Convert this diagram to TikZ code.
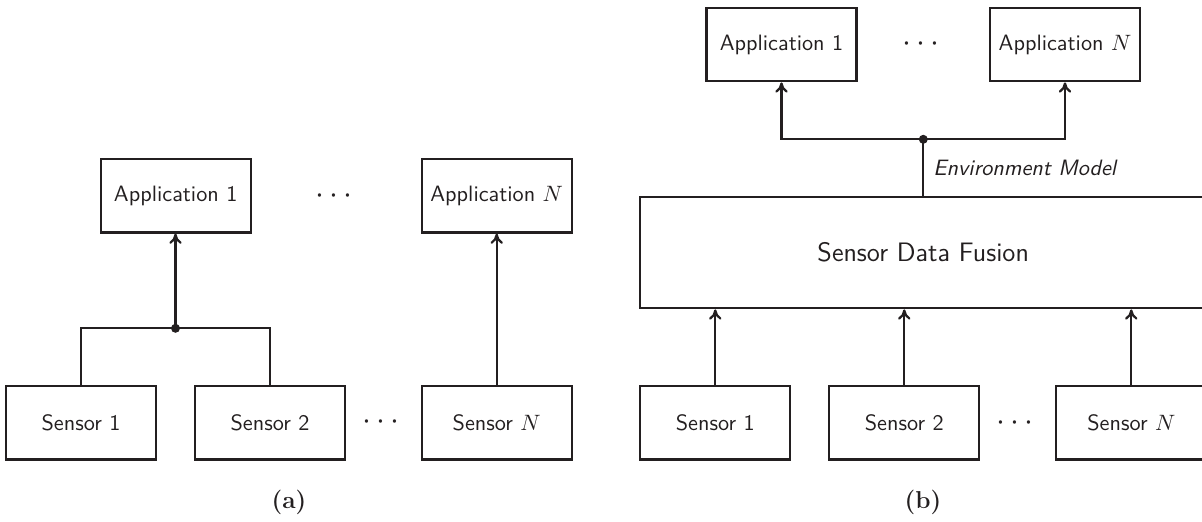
\documentclass[tikz,border=0pt]{standalone}
\usetikzlibrary{arrows.meta}
\definecolor{ink}{RGB}{35,31,32}
\tikzset{
  x=0.45pt, y=-0.45pt,
  every node/.style={text=ink},
  box/.style={draw=ink, line width=1pt, rectangle, inner sep=0pt,
    font=\sffamily, minimum width=150*0.45pt, minimum height=73.6*0.45pt},
  fusion/.style={draw=ink, line width=1pt, rectangle, inner sep=0pt,
    font=\sffamily\large, minimum width=565.7*0.45pt, minimum height=111.6*0.45pt},
  link/.style={draw=ink, line width=1pt},
  flow/.style={link, -{To[length=4.6pt,width=5.6pt]}},
  joint/.style={circle, fill=ink, inner sep=0pt, minimum size=9*0.45pt},
  gap/.style={inner sep=0pt, font=\Large},
  caption/.style={font=\fontsize{11}{13}\selectfont\bfseries, inner sep=0pt}
}
\begin{document}
\begin{tikzpicture}
\useasboundingbox (0,0) rectangle (1202,522);

% ---- (a): applications fed directly by sensors ----
\node[box] (a1) at (175.7,195.7) {Application 1};
\node[box] (aN) at (496.7,195.7) {Application $N$};
\node[gap] (adots) at (334,196) {$\cdots$};
\node[box] (s1) at (81,422.6) {Sensor 1};
\node[box] (s2) at (270,422.6) {Sensor 2};
\node[box] (sN) at (496.7,422.6) {Sensor $N$};
\node[gap] (sdots) at (381,422.7) {$\cdots$};
\node[joint] (j) at (175.5,328.3) {};

\draw[link] (s1.north) |- (j.center) -| (s2.north);
\draw[flow] (j.center) -- (j |- a1.south);
\draw[flow] (sN.north) -- (aN.south);

\node[caption] (capa) at (289,502) {(a)};

% ---- (b): applications fed by a common fusion stage ----
\node[box] (b1) at (781.5,44.5) {Application 1};
\node[box] (bN) at (1065,44.5) {Application $N$};
\node[gap] (bdots) at (921,44) {$\cdots$};
\node[fusion] (sdf) at (923.2,252.5) {Sensor Data Fusion};
\node[box] (t1) at (715.3,422.8) {Sensor 1};
\node[box] (t2) at (904.3,422.8) {Sensor 2};
\node[box] (tN) at (1131.3,422.8) {Sensor $N$};
\node[gap] (tdots) at (1015,423) {$\cdots$};
\node[joint] (k) at (923.3,139.3) {};

\draw[link] (sdf.north -| k) -- (k.center);
\draw[flow] (k.center) -| (b1.south);
\draw[flow] (k.center) -| (bN.south);
\node[anchor=west, inner sep=0pt, font=\sffamily\itshape] (env) at (933,167.5) {Environment Model};

\draw[flow] (t1.north) -- (t1.north |- sdf.south);
\draw[flow] (t2.north) -- (t2.north |- sdf.south);
\draw[flow] (tN.north) -- (tN.north |- sdf.south);

\node[caption] (capb) at (923,502) {(b)};
\end{tikzpicture}
\end{document}
